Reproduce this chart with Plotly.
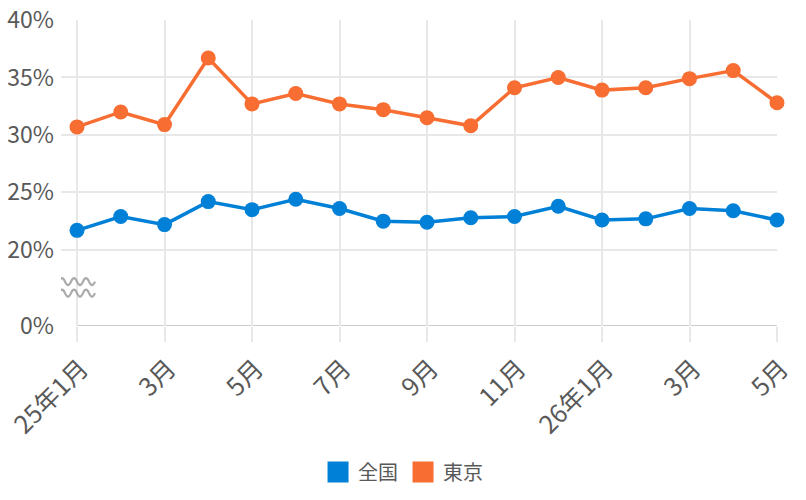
import plotly.graph_objects as go

# ---- data ----
months = ["2025-01", "2025-02", "2025-03", "2025-04", "2025-05", "2025-06",
          "2025-07", "2025-08", "2025-09", "2025-10", "2025-11", "2025-12",
          "2026-01", "2026-02", "2026-03", "2026-04", "2026-05"]
national = [21.7, 22.9, 22.2, 24.2, 23.5, 24.4, 23.6, 22.5, 22.4, 22.8,
            22.9, 23.8, 22.6, 22.7, 23.6, 23.4, 22.6]
tokyo = [30.7, 32.0, 30.9, 36.7, 32.7, 33.6, 32.7, 32.2, 31.5, 30.8,
         34.1, 35.0, 33.9, 34.1, 34.9, 35.6, 32.8]
series_names = ["全国", "東京"]
x_tick_labels = ["25年1月", "3月", "5月", "7月", "9月", "11月", "26年1月", "3月", "5月"]
y_tick_values = [0, 20, 25, 30, 35, 40]

# ---- styling ----
BLUE = "#0080d6"
ORANGE = "#f76d32"
FONT = "Noto Sans CJK JP"
TEXT = "#595959"
GRID = "#e8e8e8"
AXIS = "#cccccc"
BREAK_POS = 13.38  # where the 0% baseline sits on the broken axis


def ypos(v):
    return v if v >= 20 else BREAK_POS


fig = go.Figure()
for name, vals, col in [(series_names[0], national, BLUE), (series_names[1], tokyo, ORANGE)]:
    fig.add_trace(go.Scatter(
        x=months, y=vals, mode="lines+markers", name=name, showlegend=False,
        line=dict(color=col, width=3.5),
        marker=dict(color=col, size=15),
        cliponaxis=False,
    ))
for name, col in [(series_names[0], BLUE), (series_names[1], ORANGE)]:
    fig.add_trace(go.Scatter(
        x=[None], y=[None], mode="markers", name=name,
        marker=dict(symbol="square", color=col, size=16, line=dict(color=col, width=6)),
    ))

# darker left axis line at first category and 0% baseline
fig.add_shape(type="line", xref="x", yref="y", x0=0, x1=0, y0=BREAK_POS, y1=40,
              line=dict(color=AXIS, width=2), layer="below")
fig.add_shape(type="line", xref="x", yref="y", x0=0, x1=len(months) - 1,
              y0=BREAK_POS, y1=BREAK_POS, line=dict(color=AXIS, width=2), layer="below")

# axis-break wavy symbol
def wave(yc):
    p = "M-18,%g" % yc
    x = -18
    s = 1
    for _ in range(6):
        p += " Q%g,%g %g,%g" % (x + 3, yc + 7 * s, x + 6, yc)
        x += 6
        s = -s
    return p

fig.add_shape(type="path", xref="x", yref="y", xsizemode="pixel", ysizemode="pixel",
              xanchor=0, yanchor=16.74, path=wave(5.75) + " " + wave(-5.75),
              line=dict(color="#aaaaaa", width=2.2))

fig.update_layout(
    width=806, height=500,
    margin=dict(l=61, r=29, t=20, b=174, autoexpand=False),
    paper_bgcolor="white", plot_bgcolor="white",
    font=dict(family=FONT, color=TEXT),
    showlegend=True,
    legend=dict(orientation="h", x=0.4777, xanchor="center", y=-0.477, yanchor="middle",
                font=dict(size=20, color=TEXT, family=FONT), itemsizing="trace",
                bgcolor="rgba(0,0,0,0)"),
    xaxis=dict(
        type="category", categoryorder="array", categoryarray=months,
        range=[-0.366, len(months) - 1], automargin=False,
        tickmode="array", tickvals=months[::2], ticktext=x_tick_labels,
        tickangle=-45, tickfont=dict(size=25, color=TEXT, family=FONT),
        ticklabelshift=4, ticklabelstandoff=2,
        showgrid=True, gridcolor=GRID, gridwidth=1.5,
        ticks="outside", ticklen=15, tickcolor=GRID, tickwidth=1.5,
        showline=False, zeroline=False,
    ),
    yaxis=dict(
        range=[BREAK_POS, 40], automargin=False,
        tickmode="array", tickvals=[ypos(v) for v in y_tick_values],
        ticktext=["%d%%" % v for v in y_tick_values],
        tickfont=dict(size=23, color=TEXT, family=FONT),
        showgrid=True, gridcolor=GRID, gridwidth=1.5,
        ticks="", ticklabelstandoff=6,
        showline=False, zeroline=False,
    ),
)

fig.write_html("out.html")
